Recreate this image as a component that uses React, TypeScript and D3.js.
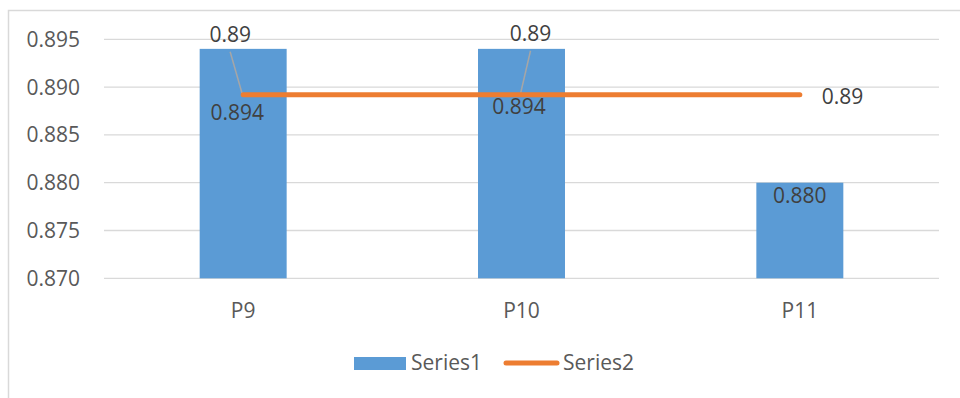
import React from "react";
import * as d3 from "d3";

const categories = ["P9", "P10", "P11"];
const series1 = [0.894, 0.894, 0.88];
const series2 = [0.8892, 0.8892, 0.8892];
const series2Labels = ["0.89", "0.89", "0.89"];
const yTicks = [0.87, 0.875, 0.88, 0.885, 0.89, 0.895];

const W = 960;
const H = 398;
const plot = { left: 104, right: 939, top: 39.3, bottom: 278.3 };
const FONT = "'Open Sans', sans-serif";
const FS = 21;
const TEXT = "#595959";
const GRID = "#D9D9D9";
const BLUE = "#5B9BD5";
const ORANGE = "#ED7D31";

// Offsets of data labels from their anchor points (dx, baseline dy)
const s1LabelOffsets = [
  [-6, 71],
  [-2.5, 65],
  [0, 20],
];
const s2LabelOffsets = [
  [-13, -53],
  [9, -54],
  [22, 9],
];

export default function App() {
  const x = d3
    .scaleBand<string>()
    .domain(categories)
    .range([plot.left, plot.right])
    .paddingInner(0.6875)
    .paddingOuter(0.34375);
  const y = d3.scaleLinear().domain([0.87, 0.895]).range([plot.bottom, plot.top]);
  const cx = (c: string) => (x(c) as number) + x.bandwidth() / 2;

  const line = d3
    .line<number>()
    .x((_, i) => cx(categories[i]))
    .y((d) => y(d));

  return (
    <svg
      width={W}
      height={H}
      style={{ position: "absolute", left: 0, top: 0, background: "#fff" }}
      fontFamily={FONT}
    >
      {/* chart frame */}
      <path d={`M8.5,${H + 2} V10.5 H${W + 2}`} fill="none" stroke={GRID} strokeWidth={1.5} />

      {/* gridlines */}
      {yTicks.map((t) => (
        <line key={t} x1={plot.left} x2={plot.right} y1={y(t)} y2={y(t)} stroke={GRID} strokeWidth={1.3} />
      ))}

      {/* value axis labels */}
      {yTicks.map((t) => (
        <text key={t} x={80} y={y(t) + 7.5} textAnchor="end" fontSize={FS} fill={TEXT}>
          {d3.format(".3f")(t)}
        </text>
      ))}

      {/* bars */}
      {categories.map((c, i) => (
        <rect
          key={c}
          x={x(c)}
          y={y(series1[i])}
          width={x.bandwidth()}
          height={y(0.87) - y(series1[i])}
          fill={BLUE}
        />
      ))}

      {/* category labels */}
      {categories.map((c) => (
        <text key={c} x={cx(c)} y={318} textAnchor="middle" fontSize={FS} fill={TEXT}>
          {c}
        </text>
      ))}

      {/* leader lines for the line labels */}
      {categories.slice(0, 2).map((c, i) => {
        const px = cx(c);
        const py = y(series2[i]);
        const lx = px + s2LabelOffsets[i][0];
        return (
          <line key={c} x1={px - 1} y1={py - 1} x2={lx} y2={py + s2LabelOffsets[i][1] + 10} stroke="#A6A6A6" strokeWidth={1.5} />
        );
      })}

      {/* line series */}
      <path d={line(series2) || ""} fill="none" stroke={ORANGE} strokeWidth={5} strokeLinecap="round" />

      {/* bar labels */}
      {categories.map((c, i) => (
        <text
          key={c}
          x={cx(c) + s1LabelOffsets[i][0]}
          y={y(series1[i]) + s1LabelOffsets[i][1]}
          textAnchor="middle"
          fontSize={FS}
          fill="#404040"
        >
          {d3.format(".3f")(series1[i])}
        </text>
      ))}

      {/* line labels */}
      {categories.map((c, i) => (
        <text
          key={c}
          x={cx(c) + s2LabelOffsets[i][0]}
          y={y(series2[i]) + s2LabelOffsets[i][1]}
          textAnchor={i === 2 ? "start" : "middle"}
          fontSize={FS}
          fill="#404040"
        >
          {series2Labels[i]}
        </text>
      ))}

      {/* legend */}
      <rect x={354} y={357} width={52} height={13} fill={BLUE} />
      <text x={411} y={370} fontSize={FS} fill={TEXT}>
        Series1
      </text>
      <line x1={506} x2={557} y1={363} y2={363} stroke={ORANGE} strokeWidth={5} strokeLinecap="round" />
      <text x={563} y={370} fontSize={FS} fill={TEXT}>
        Series2
      </text>
    </svg>
  );
}
